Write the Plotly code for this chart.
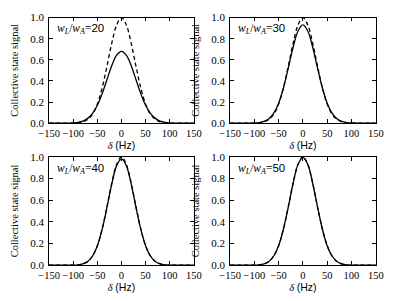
import plotly.graph_objects as go

# detuning grid (Hz), half profile (curves are symmetric)
delta_half = [0, 10, 20, 30, 40, 50, 60, 70, 80, 90, 100, 110, 120, 130, 140, 150]

ideal_half = [1.0, 0.93, 0.76, 0.54, 0.335, 0.18, 0.085, 0.035, 0.013, 0.004, 0.001, 0, 0, 0, 0, 0]
sig20_half = [0.68, 0.643, 0.545, 0.413, 0.28, 0.169, 0.092, 0.045, 0.019, 0.0075, 0.0026, 0, 0, 0, 0, 0]
sig30_half = [0.93, 0.872, 0.721, 0.524, 0.335, 0.189, 0.094, 0.041, 0.016, 0.0053, 0.0015, 0, 0, 0, 0, 0]
sig40_half = [0.98, 0.918, 0.75, 0.535, 0.333, 0.18, 0.085, 0.035, 0.013, 0.004, 0.001, 0, 0, 0, 0, 0]
sig50_half = [0.995, 0.93, 0.758, 0.539, 0.334, 0.18, 0.085, 0.035, 0.013, 0.004, 0.001, 0, 0, 0, 0, 0]

ratios = [20, 30, 40, 50]
x_ticks = [-150, -100, -50, 0, 50, 100, 150]
x_tick_text = ["\u2212150", "\u2212100", "\u221250", "0", "50", "100", "150"]
y_ticks = [0.0, 0.2, 0.4, 0.6, 0.8, 1.0]
y_tick_text = ["0.0", "0.2", "0.4", "0.6", "0.8", "1.0"]


def full(half):
    return half[::-1] + half[1:]


delta = [-d for d in delta_half[::-1]] + delta_half[1:]
ideal = full(ideal_half)
signals = [full(sig20_half), full(sig30_half), full(sig40_half), full(sig50_half)]

W, H = 399, 301
boxes = [(40, 192, 12, 122), (230, 383, 12, 122), (40, 192, 157, 270), (230, 383, 157, 270)]

SERIF = "Liberation Serif"
fig = go.Figure()
layout = dict(width=W, height=H, autosize=False, margin=dict(l=0, r=0, t=0, b=0),
              paper_bgcolor="white", plot_bgcolor="white", showlegend=False,
              font=dict(family=SERIF, size=11, color="black"))
annotations = []
for i, (x0, x1, y0, y1) in enumerate(boxes):
    n = "" if i == 0 else str(i + 1)
    xa, ya = "x" + n, "y" + n
    fig.add_trace(go.Scatter(x=delta, y=ideal, mode="lines", xaxis=xa, yaxis=ya,
                             line=dict(color="black", width=1.3, dash="4px,3px", shape="spline"),
                             hoverinfo="skip"))
    fig.add_trace(go.Scatter(x=delta, y=signals[i], mode="lines", xaxis=xa, yaxis=ya,
                             line=dict(color="black", width=1.3, shape="spline"),
                             hoverinfo="skip"))
    ax = dict(domain=[x0 / W, x1 / W], range=[-150, 150], tickvals=x_ticks, ticktext=x_tick_text,
              ticks="inside", ticklen=4, tickwidth=0.8, tickcolor="black", tickangle=0,
              showline=True, linecolor="black", linewidth=0.8, mirror="ticks",
              showgrid=False, zeroline=False, anchor=ya,
              tickfont=dict(family=SERIF, size=10.5),
              title=dict(text="<i>\u03b4</i> <span style='font-family:Liberation Sans'>(Hz)</span>",
                         font=dict(family=SERIF, size=10.5), standoff=1))
    ay = dict(domain=[1 - y1 / H, 1 - y0 / H], range=[0, 1], tickvals=y_ticks, ticktext=y_tick_text,
              ticks="inside", ticklen=4, tickwidth=0.8, tickcolor="black",
              showline=True, linecolor="black", linewidth=0.8, mirror="ticks",
              showgrid=False, zeroline=False, anchor=xa, ticklabelstandoff=2,
              tickfont=dict(family=SERIF, size=11),
              title=dict(text="Collective state signal", font=dict(family=SERIF, size=10.5), standoff=9))
    layout["xaxis" + n] = ax
    layout["yaxis" + n] = ay
    annotations.append(dict(
        text="<i>w</i><sub><i>L</i></sub>/<i>w</i><sub><i>A</i></sub>=<span style='font-family:Liberation Sans'>%d</span>" % ratios[i],
        xref="paper", yref="paper", x=(x0 + 6) / W, y=1 - (y0 + 3) / H,
        xanchor="left", yanchor="top", showarrow=False,
        font=dict(family=SERIF, size=11.5, color="black")))
layout["annotations"] = annotations
fig.update_layout(**layout)
fig.write_html("out.html", config={"displayModeBar": False},
               post_script="document.body.style.margin='0';document.body.style.overflow='hidden';")
